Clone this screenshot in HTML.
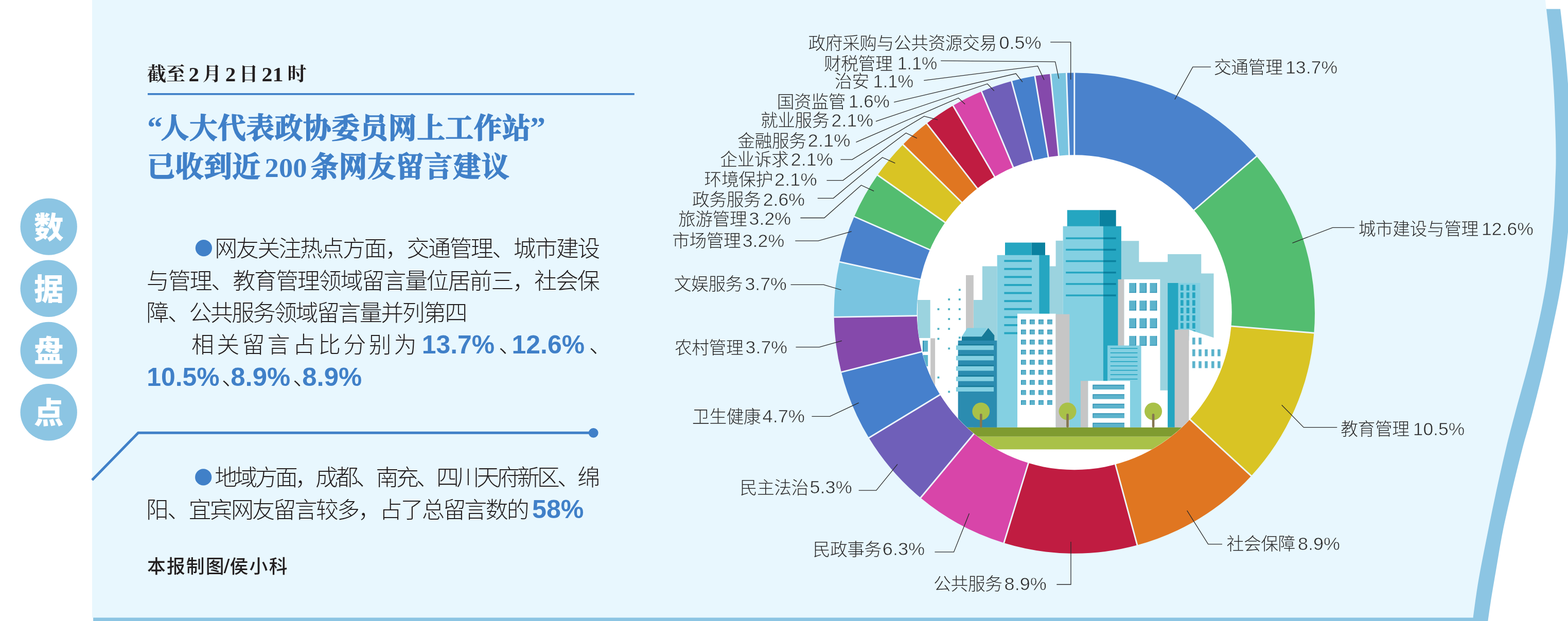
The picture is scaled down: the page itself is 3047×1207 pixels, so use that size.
<!DOCTYPE html>
<html lang="zh"><head><meta charset="utf-8"><title>数据盘点</title>
<style>
html,body{margin:0;padding:0;background:#fff}
body{width:3047px;height:1207px;position:relative;overflow:hidden;font-family:"Liberation Sans",sans-serif}
svg{position:absolute;left:0;top:0;display:block;will-change:transform}
.t div{position:absolute;white-space:nowrap;color:transparent;line-height:1;font-family:"Liberation Sans",sans-serif}
</style></head><body>
<svg width="3047" height="1207" viewBox="0 0 3047 1207">
<defs><clipPath id="ic"><circle cx="2087.7" cy="607.3" r="305.7"/></clipPath></defs>
<path fill="#8cc5e3" d="M181.1 17.6L3032.1 17.6C3033.3 27.7 3037.0 58.5 3039.2 78.4C3041.3 98.4 3043.4 117.0 3045.0 137.3C3046.6 157.6 3047.8 170.7 3049.0 200.0C3050.2 229.3 3051.8 279.7 3052.0 313.0C3052.2 346.3 3050.8 377.0 3050.0 400.0C3049.2 423.0 3048.8 431.4 3047.0 451.0C3045.2 470.6 3042.1 496.7 3039.2 517.6C3036.3 538.5 3033.3 555.6 3029.4 576.5C3025.5 597.4 3020.5 620.2 3015.6 643.1C3010.7 666.0 3006.2 687.6 3000.0 713.7C2993.8 739.9 2985.3 773.6 2978.4 800.0C2971.5 826.4 2965.1 846.5 2958.4 871.8C2951.8 897.1 2944.8 925.0 2938.5 951.6C2932.2 978.2 2925.8 1004.8 2920.5 1031.4C2915.2 1058.0 2910.6 1087.8 2906.6 1111.1C2902.6 1134.4 2899.1 1155.0 2896.6 1171.0C2894.1 1187.0 2892.3 1201.0 2891.4 1207.0L181.1 1207Z"/>
<path fill="#e8f7fe" d="M179 0L3003.0 0.0C3003.3 2.9 3003.2 1.3 3005.0 17.6C3006.8 33.9 3011.3 71.5 3013.7 98.0C3016.1 124.5 3018.0 150.3 3019.5 176.5C3021.0 202.7 3022.0 232.1 3022.7 255.0C3023.4 277.9 3023.6 297.4 3023.5 313.7C3023.4 330.0 3022.8 338.6 3022.3 353.0C3021.8 367.4 3021.4 382.4 3020.3 400.0C3019.2 417.6 3017.7 437.2 3015.6 458.8C3013.5 480.4 3010.7 507.8 3007.8 529.4C3004.9 551.0 3001.9 567.9 2998.0 588.2C2994.1 608.5 2989.5 628.8 2984.3 651.0C2979.1 673.2 2973.2 696.8 2966.6 721.6C2960.0 746.4 2951.7 775.0 2945.0 800.0C2938.3 825.0 2932.9 845.2 2926.5 871.8C2920.1 898.4 2912.9 930.4 2906.6 959.6C2900.3 988.9 2894.3 1018.7 2888.6 1047.3C2882.9 1075.9 2876.9 1105.6 2872.6 1131.1C2868.3 1156.5 2864.3 1188.5 2862.7 1200.0L2862.7 1200.4L179 1200.4Z"/>
<circle cx="94.7" cy="440.6" r="55.2" fill="#8cc5e3"/>
<text x="94.7" y="462.6" font-family="'Liberation Sans','Noto Sans CJK SC',sans-serif" font-size="57.5" font-weight="900" fill="#fff" text-anchor="middle">数</text>
<circle cx="94.7" cy="560.8" r="55.2" fill="#8cc5e3"/>
<text x="94.7" y="582.8" font-family="'Liberation Sans','Noto Sans CJK SC',sans-serif" font-size="57.5" font-weight="900" fill="#fff" text-anchor="middle">据</text>
<circle cx="94.7" cy="681.0" r="55.2" fill="#8cc5e3"/>
<text x="94.7" y="703.0" font-family="'Liberation Sans','Noto Sans CJK SC',sans-serif" font-size="57.5" font-weight="900" fill="#fff" text-anchor="middle">盘</text>
<circle cx="94.7" cy="801.2" r="55.2" fill="#8cc5e3"/>
<text x="94.7" y="823.2" font-family="'Liberation Sans','Noto Sans CJK SC',sans-serif" font-size="57.5" font-weight="900" fill="#fff" text-anchor="middle">点</text>
<text x="286.00" y="156.90" font-family="'Liberation Serif','Noto Serif CJK SC',serif" font-size="37" font-weight="700" fill="#231f20">截至</text>
<text x="366.50" y="157.60" font-family="Liberation Serif" font-size="39.00" font-weight="700" fill="#231f20" text-anchor="start" textLength="20.50" lengthAdjust="spacingAndGlyphs">2</text>
<text x="393.50" y="156.90" font-family="'Liberation Serif','Noto Serif CJK SC',serif" font-size="37" font-weight="700" fill="#231f20">月</text>
<text x="437.80" y="157.60" font-family="Liberation Serif" font-size="39.00" font-weight="700" fill="#231f20" text-anchor="start" textLength="20.50" lengthAdjust="spacingAndGlyphs">2</text>
<text x="464.50" y="156.90" font-family="'Liberation Serif','Noto Serif CJK SC',serif" font-size="37" font-weight="700" fill="#231f20">日</text>
<text x="508.50" y="157.60" font-family="Liberation Serif" font-size="39.00" font-weight="700" fill="#231f20" text-anchor="start" textLength="42.00" lengthAdjust="spacingAndGlyphs">21</text>
<text x="558.50" y="156.90" font-family="'Liberation Serif','Noto Serif CJK SC',serif" font-size="37" font-weight="700" fill="#231f20">时</text>
<rect x="287" y="181" width="945.8" height="3.7" fill="#4080c8"/>
<text x="286" y="268.40" font-family="'Liberation Serif','Noto Serif CJK SC',serif" font-size="60" font-weight="700" fill="#4080c8">“</text>
<text x="312.60" y="268.40" font-family="'Liberation Serif','Noto Serif CJK SC',serif" font-size="54.6" font-weight="700" fill="#4080c8" stroke="#4080c8" stroke-width="1.6" stroke-linejoin="round" textLength="718" lengthAdjust="spacing">人大代表政协委员网上工作站</text>
<text x="1030" y="268.40" font-family="'Liberation Serif','Noto Serif CJK SC',serif" font-size="60" font-weight="700" fill="#4080c8">”</text>
<text x="285.60" y="343.30" font-family="'Liberation Serif','Noto Serif CJK SC',serif" font-size="54.6" font-weight="700" fill="#4080c8" stroke="#4080c8" stroke-width="1.6" stroke-linejoin="round" textLength="220.5" lengthAdjust="spacing">已收到近</text>
<text x="514.60" y="344.00" font-family="Liberation Serif" font-size="52.50" font-weight="700" fill="#4080c8" text-anchor="start" textLength="82.00" lengthAdjust="spacingAndGlyphs">200</text>
<text x="603.40" y="343.30" font-family="'Liberation Serif','Noto Serif CJK SC',serif" font-size="54.6" font-weight="700" fill="#4080c8" stroke="#4080c8" stroke-width="1.6" stroke-linejoin="round" textLength="386.4" lengthAdjust="spacing">条网友留言建议</text>
<circle cx="395.9" cy="482.2" r="16.1" fill="#4080c8"/>
<text x="417.20" y="499.30" font-family="'Liberation Sans','Noto Sans CJK SC',sans-serif" font-size="44" font-weight="300" fill="#231f20" textLength="749" lengthAdjust="spacing">网友关注热点方面，交通管理、城市建设</text>
<text x="284.80" y="561.60" font-family="'Liberation Sans','Noto Sans CJK SC',sans-serif" font-size="44" font-weight="300" fill="#231f20" textLength="881" lengthAdjust="spacing">与管理、教育管理领域留言量位居前三，社会保</text>
<text x="284.60" y="623.90" font-family="'Liberation Sans','Noto Sans CJK SC',sans-serif" font-size="44" font-weight="300" fill="#231f20" textLength="623.8" lengthAdjust="spacing">障、公共服务领域留言量并列第四</text>
<text x="372.00" y="686.20" font-family="'Liberation Sans','Noto Sans CJK SC',sans-serif" font-size="44" font-weight="300" fill="#231f20" textLength="437.6" lengthAdjust="spacing">相关留言占比分别为</text>
<text x="819.70" y="687.20" font-family="Liberation Sans" font-size="49.50" font-weight="700" fill="#4080c8" text-anchor="start" textLength="141.50" lengthAdjust="spacingAndGlyphs">13.7%</text>
<text x="969.00" y="686.20" font-family="'Liberation Sans','Noto Sans CJK SC',sans-serif" font-size="44" font-weight="300" fill="#231f20">、</text>
<text x="994.60" y="687.20" font-family="Liberation Sans" font-size="49.50" font-weight="700" fill="#4080c8" text-anchor="start" textLength="141.50" lengthAdjust="spacingAndGlyphs">12.6%</text>
<text x="1144.80" y="686.20" font-family="'Liberation Sans','Noto Sans CJK SC',sans-serif" font-size="44" font-weight="300" fill="#231f20">、</text>
<text x="285.20" y="750.10" font-family="Liberation Sans" font-size="49.50" font-weight="700" fill="#4080c8" text-anchor="start" textLength="141.50" lengthAdjust="spacingAndGlyphs">10.5%</text>
<text x="430.80" y="748.50" font-family="'Liberation Sans','Noto Sans CJK SC',sans-serif" font-size="44" font-weight="300" fill="#231f20">、</text>
<text x="448.30" y="750.10" font-family="Liberation Sans" font-size="49.50" font-weight="700" fill="#4080c8" text-anchor="start" textLength="116.00" lengthAdjust="spacingAndGlyphs">8.9%</text>
<text x="569.00" y="748.50" font-family="'Liberation Sans','Noto Sans CJK SC',sans-serif" font-size="44" font-weight="300" fill="#231f20">、</text>
<text x="587.20" y="750.10" font-family="Liberation Sans" font-size="49.50" font-weight="700" fill="#4080c8" text-anchor="start" textLength="116.00" lengthAdjust="spacingAndGlyphs">8.9%</text>
<path d="M179 933L268.6 841.3H1153" fill="none" stroke="#4080c8" stroke-width="5"/>
<circle cx="1153.2" cy="841.3" r="9.4" fill="#4080c8"/>
<circle cx="395.2" cy="927.4" r="16.1" fill="#4080c8"/>
<text x="417.20" y="944.00" font-family="'Liberation Sans','Noto Sans CJK SC',sans-serif" font-size="44" font-weight="300" fill="#231f20" textLength="749" lengthAdjust="spacing">地域方面，成都、南充、四川天府新区、绵</text>
<text x="284.00" y="1006.50" font-family="'Liberation Sans','Noto Sans CJK SC',sans-serif" font-size="44" font-weight="300" fill="#231f20" textLength="744.8" lengthAdjust="spacing">阳、宜宾网友留言较多，占了总留言数的</text>
<text x="1034.00" y="1006.90" font-family="Liberation Sans" font-size="49.50" font-weight="700" fill="#4080c8" text-anchor="start" textLength="100.50" lengthAdjust="spacingAndGlyphs">58%</text>
<text x="286.00" y="1114.20" font-family="'Liberation Sans','Noto Sans CJK SC',sans-serif" font-size="35.8" font-weight="500" fill="#231f20" textLength="149.5" lengthAdjust="spacing">本报制图</text>
<text x="434.40" y="1114.20" font-family="Liberation Sans" font-size="38.00" font-weight="400" fill="#231f20" text-anchor="start" textLength="12.00" lengthAdjust="spacingAndGlyphs">/</text>
<text x="446.40" y="1114.20" font-family="'Liberation Sans','Noto Sans CJK SC',sans-serif" font-size="35.8" font-weight="500" fill="#231f20" textLength="112.2" lengthAdjust="spacing">侯小科</text>
<path fill="#4a82cc" d="M2087.80 141.40A467.2 467.2 0 0 1 2441.80 303.71L2316.48 411.65A301.8 301.8 0 0 0 2087.80 306.80Z"/>
<path fill="#53bd70" d="M2441.80 303.71A467.2 467.2 0 0 1 2553.40 647.18L2388.57 633.52A301.8 301.8 0 0 0 2316.48 411.65Z"/>
<path fill="#d9c424" d="M2553.40 647.18A467.2 467.2 0 0 1 2431.53 925.03L2309.84 813.00A301.8 301.8 0 0 0 2388.57 633.52Z"/>
<path fill="#e07621" d="M2431.53 925.03A467.2 467.2 0 0 1 2209.96 1059.55L2166.71 899.90A301.8 301.8 0 0 0 2309.84 813.00Z"/>
<path fill="#c01c41" d="M2209.96 1059.55A467.2 467.2 0 0 1 1950.79 1055.26L1999.30 897.13A301.8 301.8 0 0 0 2166.71 899.90Z"/>
<path fill="#d845a9" d="M1950.79 1055.26A467.2 467.2 0 0 1 1788.81 967.60L1894.66 840.50A301.8 301.8 0 0 0 1999.30 897.13Z"/>
<path fill="#6f5fb9" d="M1788.81 967.60A467.2 467.2 0 0 1 1688.44 851.06L1829.82 765.23A301.8 301.8 0 0 0 1894.66 840.50Z"/>
<path fill="#4680cc" d="M1688.44 851.06A467.2 467.2 0 0 1 1634.90 723.29L1795.23 682.69A301.8 301.8 0 0 0 1829.82 765.23Z"/>
<path fill="#8549ab" d="M1634.90 723.29A467.2 467.2 0 0 1 1620.66 616.32L1786.04 613.59A301.8 301.8 0 0 0 1795.23 682.69Z"/>
<path fill="#79c4e0" d="M1620.66 616.32A467.2 467.2 0 0 1 1631.35 508.95L1792.95 544.23A301.8 301.8 0 0 0 1786.04 613.59Z"/>
<path fill="#4a82cc" d="M1631.35 508.95A467.2 467.2 0 0 1 1659.95 420.93L1811.42 487.37A301.8 301.8 0 0 0 1792.95 544.23Z"/>
<path fill="#53bd70" d="M1659.95 420.93A467.2 467.2 0 0 1 1705.34 340.27L1840.74 435.27A301.8 301.8 0 0 0 1811.42 487.37Z"/>
<path fill="#d9c424" d="M1705.34 340.27A467.2 467.2 0 0 1 1754.72 280.98L1872.64 396.97A301.8 301.8 0 0 0 1840.74 435.27Z"/>
<path fill="#e07621" d="M1754.72 280.98A467.2 467.2 0 0 1 1800.84 239.91L1902.43 370.44A301.8 301.8 0 0 0 1872.64 396.97Z"/>
<path fill="#c01c41" d="M1800.84 239.91A467.2 467.2 0 0 1 1851.97 205.29L1935.46 348.07A301.8 301.8 0 0 0 1902.43 370.44Z"/>
<path fill="#d845a9" d="M1851.97 205.29A467.2 467.2 0 0 1 1907.23 177.71L1971.15 330.25A301.8 301.8 0 0 0 1935.46 348.07Z"/>
<path fill="#6f5fb9" d="M1907.23 177.71A467.2 467.2 0 0 1 1965.64 157.65L2008.89 317.30A301.8 301.8 0 0 0 1971.15 330.25Z"/>
<path fill="#4680cc" d="M1965.64 157.65A467.2 467.2 0 0 1 2010.90 147.77L2038.13 310.92A301.8 301.8 0 0 0 2008.89 317.30Z"/>
<path fill="#8549ab" d="M2010.90 147.77A467.2 467.2 0 0 1 2041.53 143.70L2057.91 308.28A301.8 301.8 0 0 0 2038.13 310.92Z"/>
<path fill="#79c4e0" d="M2041.53 143.70A467.2 467.2 0 0 1 2072.35 141.66L2077.82 306.97A301.8 301.8 0 0 0 2057.91 308.28Z"/>
<path fill="#4a82cc" d="M2072.35 141.66A467.2 467.2 0 0 1 2087.80 141.40L2087.80 306.80A301.8 301.8 0 0 0 2077.82 306.97Z"/>
<path d="M2087.80 140.90L2087.80 305.80M2442.18 303.39L2317.24 411.00M2553.90 647.22L2389.57 633.61M2431.90 925.36L2310.58 813.68M2210.09 1060.03L2166.98 900.87M1950.65 1055.74L1999.00 898.09M1788.49 967.98L1894.02 841.27M1688.01 851.32L1828.97 765.74M1634.41 723.41L1794.27 682.93M1620.16 616.33L1785.04 613.61M1630.86 508.84L1791.97 544.01M1659.49 420.73L1810.50 486.97M1704.93 339.99L1839.92 434.69M1754.36 280.63L1871.93 396.27M1800.53 239.52L1901.82 369.65M1851.72 204.85L1934.96 347.21M1907.03 177.25L1970.77 329.33M1965.51 157.17L2008.62 316.33M2010.82 147.28L2037.96 309.93M2041.48 143.20L2057.81 307.29M2072.34 141.16L2077.79 305.97" stroke="#eef6fb" stroke-width="2.9" fill="none"/>
<circle cx="2087.7" cy="607.3" r="306.0" fill="#fff"/>
<g clip-path="url(#ic)"><rect x="1783.0" y="583.0" width="24.7" height="74.0" fill="#9bd3df"/><path d="M1891.8 830.8L1891.8 583.0L1908.9 583.0L1908.9 517.4L1937.7 517.4L1937.7 830.8Z" fill="#9bd3df"/><path d="M2039.6 830.8L2039.6 517.4L2051.6 517.4L2051.6 467.7L2065.6 467.7L2065.6 830.8Z" fill="#9bd3df"/><path d="M2178.9 700.0L2178.9 468.2L2213.3 468.2L2213.3 509.3L2269.1 509.3L2269.1 494.0L2334.3 494.0L2334.3 531.4L2358.5 531.4L2358.5 662.0L2269.1 662.0L2269.1 758.7L2254.3 758.7L2254.3 700.0Z" fill="#9bd3df"/><rect x="1877.0" y="534.8" width="14.8" height="165.2" fill="#c6c6c6"/><rect x="1808.2" y="657.5" width="8.9" height="173.3" fill="#c6c6c6"/><rect x="1793.0" y="662.0" width="10.2" height="21.5" fill="#5cb3cc"/><rect x="1793.0" y="662.0" width="2.0" height="21.5" fill="#2d8fb2"/><rect x="1794.0" y="690.0" width="9.2" height="22.0" fill="#5cb3cc"/><rect x="1862.9" y="561.4" width="3.8" height="3.8" fill="#4fb1c3"/><rect x="1862.9" y="580.0" width="3.8" height="3.8" fill="#4fb1c3"/><rect x="1862.9" y="599.1" width="3.8" height="3.8" fill="#4fb1c3"/><rect x="1862.9" y="618.2" width="3.8" height="3.8" fill="#4fb1c3"/><rect x="1842.3" y="580.0" width="3.8" height="3.8" fill="#4fb1c3"/><rect x="1842.3" y="599.1" width="3.8" height="3.8" fill="#4fb1c3"/><rect x="1842.3" y="618.2" width="3.8" height="3.8" fill="#4fb1c3"/><rect x="1842.3" y="637.3" width="3.8" height="3.8" fill="#4fb1c3"/><rect x="1821.6" y="599.1" width="3.8" height="3.8" fill="#4fb1c3"/><rect x="1821.6" y="637.3" width="3.8" height="3.8" fill="#4fb1c3"/><rect x="1821.6" y="656.6" width="3.8" height="3.8" fill="#4fb1c3"/><rect x="1862.9" y="654.3" width="3.8" height="3.8" fill="#4fb1c3"/><rect x="1842.3" y="675.5" width="3.8" height="3.8" fill="#4fb1c3"/><rect x="1821.6" y="731.8" width="3.8" height="3.8" fill="#4fb1c3"/><rect x="1842.3" y="759.6" width="3.8" height="3.8" fill="#4fb1c3"/><rect x="1953.0" y="471.5" width="51.5" height="24.5" fill="#25a6c1"/><rect x="2004.5" y="471.5" width="26.5" height="24.5" fill="#0a819f"/><rect x="1937.7" y="495.8" width="81.5" height="335.0" fill="#84d0e2"/><rect x="2019.2" y="495.8" width="20.4" height="335.0" fill="#25a6c1"/><rect x="1951.4" y="505.2" width="53.6" height="3.9" fill="#25a6c1"/><rect x="1951.4" y="520.8" width="53.6" height="3.9" fill="#25a6c1"/><rect x="1951.4" y="536.4" width="53.6" height="3.9" fill="#25a6c1"/><rect x="1951.4" y="552.0" width="53.6" height="3.9" fill="#25a6c1"/><rect x="1951.4" y="567.6" width="53.6" height="3.9" fill="#25a6c1"/><rect x="1951.4" y="583.2" width="53.6" height="3.9" fill="#25a6c1"/><rect x="1951.4" y="598.8" width="53.6" height="3.9" fill="#25a6c1"/><rect x="1951.4" y="614.4" width="53.6" height="3.9" fill="#25a6c1"/><rect x="1951.4" y="630.0" width="53.6" height="3.9" fill="#25a6c1"/><rect x="1951.4" y="645.6" width="53.6" height="3.9" fill="#25a6c1"/><rect x="2073.8" y="408.3" width="62.8" height="31.7" fill="#25a6c1"/><rect x="2136.6" y="408.3" width="32.1" height="31.7" fill="#0a819f"/><rect x="2065.6" y="439.7" width="78.1" height="391.1" fill="#84d0e2"/><rect x="2143.7" y="439.7" width="35.2" height="391.1" fill="#25a6c1"/><rect x="2071.2" y="461.4" width="72.5" height="3.5" fill="#25a6c1"/><rect x="2143.7" y="461.4" width="25.0" height="3.5" fill="#0a819f"/><rect x="2071.2" y="483.6" width="72.5" height="3.5" fill="#25a6c1"/><rect x="2143.7" y="483.6" width="25.0" height="3.5" fill="#0a819f"/><rect x="2071.2" y="505.8" width="72.5" height="3.5" fill="#25a6c1"/><rect x="2143.7" y="505.8" width="25.0" height="3.5" fill="#0a819f"/><rect x="2071.2" y="528.0" width="72.5" height="3.5" fill="#25a6c1"/><rect x="2143.7" y="528.0" width="25.0" height="3.5" fill="#0a819f"/><rect x="2071.2" y="550.2" width="72.5" height="3.5" fill="#25a6c1"/><rect x="2143.7" y="550.2" width="25.0" height="3.5" fill="#0a819f"/><rect x="2071.2" y="572.4" width="72.5" height="3.5" fill="#25a6c1"/><rect x="2143.7" y="572.4" width="25.0" height="3.5" fill="#0a819f"/><rect x="1977.0" y="609.7" width="74.6" height="221.1" fill="#fff"/><rect x="2051.6" y="610.7" width="26.8" height="220.1" fill="#c6c6c6"/><rect x="1984.0" y="621.1" width="9.8" height="9.1" fill="#2d8fb2"/><rect x="1985.2" y="622.3" width="8.6" height="7.9" fill="#5cb3cc"/><rect x="2001.0" y="621.1" width="9.8" height="9.1" fill="#2d8fb2"/><rect x="2002.2" y="622.3" width="8.6" height="7.9" fill="#5cb3cc"/><rect x="2018.1" y="621.1" width="9.8" height="9.1" fill="#2d8fb2"/><rect x="2019.3" y="622.3" width="8.6" height="7.9" fill="#5cb3cc"/><rect x="2035.2" y="621.1" width="9.8" height="9.1" fill="#2d8fb2"/><rect x="2036.4" y="622.3" width="8.6" height="7.9" fill="#5cb3cc"/><rect x="1984.0" y="640.7" width="9.8" height="9.1" fill="#2d8fb2"/><rect x="1985.2" y="641.9" width="8.6" height="7.9" fill="#5cb3cc"/><rect x="2001.0" y="640.7" width="9.8" height="9.1" fill="#2d8fb2"/><rect x="2002.2" y="641.9" width="8.6" height="7.9" fill="#5cb3cc"/><rect x="2018.1" y="640.7" width="9.8" height="9.1" fill="#2d8fb2"/><rect x="2019.3" y="641.9" width="8.6" height="7.9" fill="#5cb3cc"/><rect x="2035.2" y="640.7" width="9.8" height="9.1" fill="#2d8fb2"/><rect x="2036.4" y="641.9" width="8.6" height="7.9" fill="#5cb3cc"/><rect x="1984.0" y="660.3" width="9.8" height="9.1" fill="#2d8fb2"/><rect x="1985.2" y="661.5" width="8.6" height="7.9" fill="#5cb3cc"/><rect x="2001.0" y="660.3" width="9.8" height="9.1" fill="#2d8fb2"/><rect x="2002.2" y="661.5" width="8.6" height="7.9" fill="#5cb3cc"/><rect x="2018.1" y="660.3" width="9.8" height="9.1" fill="#2d8fb2"/><rect x="2019.3" y="661.5" width="8.6" height="7.9" fill="#5cb3cc"/><rect x="2035.2" y="660.3" width="9.8" height="9.1" fill="#2d8fb2"/><rect x="2036.4" y="661.5" width="8.6" height="7.9" fill="#5cb3cc"/><rect x="1984.0" y="679.9" width="9.8" height="9.1" fill="#2d8fb2"/><rect x="1985.2" y="681.1" width="8.6" height="7.9" fill="#5cb3cc"/><rect x="2001.0" y="679.9" width="9.8" height="9.1" fill="#2d8fb2"/><rect x="2002.2" y="681.1" width="8.6" height="7.9" fill="#5cb3cc"/><rect x="2018.1" y="679.9" width="9.8" height="9.1" fill="#2d8fb2"/><rect x="2019.3" y="681.1" width="8.6" height="7.9" fill="#5cb3cc"/><rect x="2035.2" y="679.9" width="9.8" height="9.1" fill="#2d8fb2"/><rect x="2036.4" y="681.1" width="8.6" height="7.9" fill="#5cb3cc"/><rect x="1984.0" y="699.5" width="9.8" height="9.1" fill="#2d8fb2"/><rect x="1985.2" y="700.7" width="8.6" height="7.9" fill="#5cb3cc"/><rect x="2001.0" y="699.5" width="9.8" height="9.1" fill="#2d8fb2"/><rect x="2002.2" y="700.7" width="8.6" height="7.9" fill="#5cb3cc"/><rect x="2018.1" y="699.5" width="9.8" height="9.1" fill="#2d8fb2"/><rect x="2019.3" y="700.7" width="8.6" height="7.9" fill="#5cb3cc"/><rect x="2035.2" y="699.5" width="9.8" height="9.1" fill="#2d8fb2"/><rect x="2036.4" y="700.7" width="8.6" height="7.9" fill="#5cb3cc"/><rect x="1984.0" y="719.1" width="9.8" height="9.1" fill="#2d8fb2"/><rect x="1985.2" y="720.3" width="8.6" height="7.9" fill="#5cb3cc"/><rect x="2001.0" y="719.1" width="9.8" height="9.1" fill="#2d8fb2"/><rect x="2002.2" y="720.3" width="8.6" height="7.9" fill="#5cb3cc"/><rect x="2018.1" y="719.1" width="9.8" height="9.1" fill="#2d8fb2"/><rect x="2019.3" y="720.3" width="8.6" height="7.9" fill="#5cb3cc"/><rect x="2035.2" y="719.1" width="9.8" height="9.1" fill="#2d8fb2"/><rect x="2036.4" y="720.3" width="8.6" height="7.9" fill="#5cb3cc"/><rect x="1984.0" y="738.7" width="9.8" height="9.1" fill="#2d8fb2"/><rect x="1985.2" y="739.9" width="8.6" height="7.9" fill="#5cb3cc"/><rect x="2001.0" y="738.7" width="9.8" height="9.1" fill="#2d8fb2"/><rect x="2002.2" y="739.9" width="8.6" height="7.9" fill="#5cb3cc"/><rect x="2018.1" y="738.7" width="9.8" height="9.1" fill="#2d8fb2"/><rect x="2019.3" y="739.9" width="8.6" height="7.9" fill="#5cb3cc"/><rect x="2035.2" y="738.7" width="9.8" height="9.1" fill="#2d8fb2"/><rect x="2036.4" y="739.9" width="8.6" height="7.9" fill="#5cb3cc"/><rect x="1984.0" y="758.3" width="9.8" height="9.1" fill="#2d8fb2"/><rect x="1985.2" y="759.5" width="8.6" height="7.9" fill="#5cb3cc"/><rect x="2001.0" y="758.3" width="9.8" height="9.1" fill="#2d8fb2"/><rect x="2002.2" y="759.5" width="8.6" height="7.9" fill="#5cb3cc"/><rect x="2018.1" y="758.3" width="9.8" height="9.1" fill="#2d8fb2"/><rect x="2019.3" y="759.5" width="8.6" height="7.9" fill="#5cb3cc"/><rect x="2035.2" y="758.3" width="9.8" height="9.1" fill="#2d8fb2"/><rect x="2036.4" y="759.5" width="8.6" height="7.9" fill="#5cb3cc"/><rect x="1984.0" y="777.9" width="9.8" height="9.1" fill="#2d8fb2"/><rect x="1985.2" y="779.1" width="8.6" height="7.9" fill="#5cb3cc"/><rect x="2001.0" y="777.9" width="9.8" height="9.1" fill="#2d8fb2"/><rect x="2002.2" y="779.1" width="8.6" height="7.9" fill="#5cb3cc"/><rect x="2018.1" y="777.9" width="9.8" height="9.1" fill="#2d8fb2"/><rect x="2019.3" y="779.1" width="8.6" height="7.9" fill="#5cb3cc"/><rect x="2035.2" y="777.9" width="9.8" height="9.1" fill="#2d8fb2"/><rect x="2036.4" y="779.1" width="8.6" height="7.9" fill="#5cb3cc"/><rect x="2172.5" y="542.9" width="12.0" height="287.9" fill="#c6c6c6"/><rect x="2184.5" y="542.9" width="69.8" height="287.9" fill="#fff"/><rect x="2194.2" y="550.0" width="13.8" height="19.1" fill="#5cb3cc"/><rect x="2206.6" y="550.0" width="1.4" height="19.1" fill="#2d8fb2"/><rect x="2194.2" y="567.9" width="13.8" height="1.2" fill="#2d8fb2"/><rect x="2214.3" y="550.0" width="13.8" height="19.1" fill="#5cb3cc"/><rect x="2226.7" y="550.0" width="1.4" height="19.1" fill="#2d8fb2"/><rect x="2214.3" y="567.9" width="13.8" height="1.2" fill="#2d8fb2"/><rect x="2234.4" y="550.0" width="13.8" height="19.1" fill="#5cb3cc"/><rect x="2246.8" y="550.0" width="1.4" height="19.1" fill="#2d8fb2"/><rect x="2234.4" y="567.9" width="13.8" height="1.2" fill="#2d8fb2"/><rect x="2194.2" y="584.3" width="13.8" height="19.1" fill="#5cb3cc"/><rect x="2206.6" y="584.3" width="1.4" height="19.1" fill="#2d8fb2"/><rect x="2194.2" y="602.2" width="13.8" height="1.2" fill="#2d8fb2"/><rect x="2214.3" y="584.3" width="13.8" height="19.1" fill="#5cb3cc"/><rect x="2226.7" y="584.3" width="1.4" height="19.1" fill="#2d8fb2"/><rect x="2214.3" y="602.2" width="13.8" height="1.2" fill="#2d8fb2"/><rect x="2234.4" y="584.3" width="13.8" height="19.1" fill="#5cb3cc"/><rect x="2246.8" y="584.3" width="1.4" height="19.1" fill="#2d8fb2"/><rect x="2234.4" y="602.2" width="13.8" height="1.2" fill="#2d8fb2"/><rect x="2194.2" y="618.6" width="13.8" height="19.1" fill="#5cb3cc"/><rect x="2206.6" y="618.6" width="1.4" height="19.1" fill="#2d8fb2"/><rect x="2194.2" y="636.5" width="13.8" height="1.2" fill="#2d8fb2"/><rect x="2214.3" y="618.6" width="13.8" height="19.1" fill="#5cb3cc"/><rect x="2226.7" y="618.6" width="1.4" height="19.1" fill="#2d8fb2"/><rect x="2214.3" y="636.5" width="13.8" height="1.2" fill="#2d8fb2"/><rect x="2234.4" y="618.6" width="13.8" height="19.1" fill="#5cb3cc"/><rect x="2246.8" y="618.6" width="1.4" height="19.1" fill="#2d8fb2"/><rect x="2234.4" y="636.5" width="13.8" height="1.2" fill="#2d8fb2"/><rect x="2194.2" y="652.9" width="13.8" height="19.1" fill="#5cb3cc"/><rect x="2206.6" y="652.9" width="1.4" height="19.1" fill="#2d8fb2"/><rect x="2194.2" y="670.8" width="13.8" height="1.2" fill="#2d8fb2"/><rect x="2214.3" y="652.9" width="13.8" height="19.1" fill="#5cb3cc"/><rect x="2226.7" y="652.9" width="1.4" height="19.1" fill="#2d8fb2"/><rect x="2214.3" y="670.8" width="13.8" height="1.2" fill="#2d8fb2"/><rect x="2234.4" y="652.9" width="13.8" height="19.1" fill="#5cb3cc"/><rect x="2246.8" y="652.9" width="1.4" height="19.1" fill="#2d8fb2"/><rect x="2234.4" y="670.8" width="13.8" height="1.2" fill="#2d8fb2"/><rect x="2269.1" y="550.0" width="20.6" height="280.8" fill="#25a6c1"/><rect x="2289.7" y="550.0" width="42.6" height="112.0" fill="#84d0e2"/><rect x="2294.0" y="553.6" width="5.7" height="11.0" fill="#25a6c1"/><rect x="2305.5" y="553.6" width="5.7" height="11.0" fill="#25a6c1"/><rect x="2317.0" y="553.6" width="5.7" height="11.0" fill="#25a6c1"/><rect x="2294.0" y="568.4" width="5.7" height="11.0" fill="#25a6c1"/><rect x="2305.5" y="568.4" width="5.7" height="11.0" fill="#25a6c1"/><rect x="2317.0" y="568.4" width="5.7" height="11.0" fill="#25a6c1"/><rect x="2294.0" y="583.2" width="5.7" height="11.0" fill="#25a6c1"/><rect x="2305.5" y="583.2" width="5.7" height="11.0" fill="#25a6c1"/><rect x="2317.0" y="583.2" width="5.7" height="11.0" fill="#25a6c1"/><rect x="2294.0" y="598.0" width="5.7" height="11.0" fill="#25a6c1"/><rect x="2305.5" y="598.0" width="5.7" height="11.0" fill="#25a6c1"/><rect x="2317.0" y="598.0" width="5.7" height="11.0" fill="#25a6c1"/><rect x="2294.0" y="612.8" width="5.7" height="11.0" fill="#25a6c1"/><rect x="2305.5" y="612.8" width="5.7" height="11.0" fill="#25a6c1"/><rect x="2317.0" y="612.8" width="5.7" height="11.0" fill="#25a6c1"/><rect x="2294.0" y="627.6" width="5.7" height="11.0" fill="#25a6c1"/><rect x="2305.5" y="627.6" width="5.7" height="11.0" fill="#25a6c1"/><rect x="2317.0" y="627.6" width="5.7" height="11.0" fill="#25a6c1"/><rect x="2294.0" y="642.4" width="5.7" height="11.0" fill="#25a6c1"/><rect x="2305.5" y="642.4" width="5.7" height="11.0" fill="#25a6c1"/><rect x="2317.0" y="642.4" width="5.7" height="11.0" fill="#25a6c1"/><rect x="2282.6" y="640.7" width="28.0" height="190.1" fill="#c6c6c6"/><path d="M2310.6 640.7L2359.0 656.5L2420.0 656.5L2420.0 830.8L2310.6 830.8Z" fill="#fff"/><rect x="2317.0" y="656.2" width="5.6" height="13.4" fill="#5cb3cc"/><rect x="2329.2" y="656.2" width="5.6" height="13.4" fill="#5cb3cc"/><rect x="2317.0" y="679.0" width="5.6" height="13.4" fill="#5cb3cc"/><rect x="2329.2" y="679.0" width="5.6" height="13.4" fill="#5cb3cc"/><rect x="2341.2" y="679.0" width="5.6" height="13.4" fill="#5cb3cc"/><rect x="2354.0" y="679.0" width="5.6" height="13.4" fill="#5cb3cc"/><rect x="2366.0" y="679.0" width="5.6" height="13.4" fill="#5cb3cc"/><rect x="2317.0" y="702.1" width="5.6" height="13.4" fill="#5cb3cc"/><rect x="2329.2" y="702.1" width="5.6" height="13.4" fill="#5cb3cc"/><rect x="2341.2" y="702.1" width="5.6" height="13.4" fill="#5cb3cc"/><rect x="2354.0" y="702.1" width="5.6" height="13.4" fill="#5cb3cc"/><rect x="2366.0" y="702.1" width="5.6" height="13.4" fill="#5cb3cc"/><rect x="2152.1" y="671.5" width="65.5" height="159.3" fill="#84d0e2"/><rect x="2157.7" y="676.4" width="52.8" height="1.7" fill="#25a6c1"/><rect x="2157.7" y="684.9" width="52.8" height="1.7" fill="#25a6c1"/><rect x="2157.7" y="693.4" width="52.8" height="1.7" fill="#25a6c1"/><rect x="2157.7" y="701.9" width="52.8" height="1.7" fill="#25a6c1"/><rect x="2157.7" y="710.4" width="52.8" height="1.7" fill="#25a6c1"/><rect x="2157.7" y="718.9" width="52.8" height="1.7" fill="#25a6c1"/><rect x="2157.7" y="727.4" width="52.8" height="1.7" fill="#25a6c1"/><rect x="2157.7" y="735.9" width="52.8" height="1.7" fill="#25a6c1"/><rect x="2099.9" y="740.3" width="14.5" height="90.5" fill="#c6c6c6"/><rect x="2114.4" y="740.3" width="81.6" height="90.5" fill="#fff"/><rect x="2123.3" y="747.7" width="61.7" height="9.2" fill="#2d8fb2"/><rect x="2124.6" y="749.3" width="60.4" height="7.6" fill="#5cb3cc"/><rect x="2123.3" y="766.2" width="61.7" height="9.2" fill="#2d8fb2"/><rect x="2124.6" y="767.8" width="60.4" height="7.6" fill="#5cb3cc"/><rect x="2123.3" y="784.7" width="61.7" height="9.2" fill="#2d8fb2"/><rect x="2124.6" y="786.3" width="60.4" height="7.6" fill="#5cb3cc"/><rect x="2123.3" y="803.2" width="61.7" height="9.2" fill="#2d8fb2"/><rect x="2124.6" y="804.8" width="60.4" height="7.6" fill="#5cb3cc"/><rect x="2123.3" y="821.7" width="61.7" height="9.2" fill="#2d8fb2"/><rect x="2124.6" y="823.3" width="60.4" height="7.6" fill="#5cb3cc"/><rect x="1861.7" y="661.9" width="75.7" height="168.9" fill="#2b8cb0"/><path d="M1879.6 637.6L1917.0 637.6L1907.6 654.2L1868.9 654.2Z" fill="#84d0e2"/><path d="M1868.9 654.2L1907.6 654.2L1920.4 637.6L1932.3 651.7L1932.3 661.9L1868.9 661.9Z" fill="#167a98"/><rect x="1861.7" y="668.9" width="69.4" height="2.6" fill="#167a98"/><rect x="1857.9" y="671.5" width="73.2" height="8.7" fill="#84d0e2"/><rect x="1861.7" y="689.1" width="69.4" height="2.6" fill="#167a98"/><rect x="1857.9" y="691.7" width="73.2" height="8.7" fill="#84d0e2"/><rect x="1861.7" y="709.3" width="69.4" height="2.6" fill="#167a98"/><rect x="1857.9" y="711.9" width="73.2" height="8.7" fill="#84d0e2"/><rect x="1861.7" y="729.5" width="69.4" height="2.6" fill="#167a98"/><rect x="1857.9" y="732.1" width="73.2" height="8.7" fill="#84d0e2"/><rect x="1861.7" y="749.7" width="69.4" height="2.6" fill="#167a98"/><rect x="1857.9" y="752.3" width="73.2" height="8.7" fill="#84d0e2"/><rect x="1770.0" y="830.8" width="640.0" height="17.9" fill="#7f9b30"/><rect x="1770.0" y="848.7" width="640.0" height="24.7" fill="#a9c148"/><circle cx="1906.3" cy="799.5" r="17" fill="#a9c148"/><rect x="1904.0" y="804" width="4.6" height="27" rx="2" fill="#857650"/><circle cx="2074.5" cy="799.5" r="17" fill="#a9c148"/><rect x="2072.2" y="804" width="4.6" height="27" rx="2" fill="#857650"/><circle cx="2241.1" cy="799.5" r="17" fill="#a9c148"/><rect x="2238.8" y="804" width="4.6" height="27" rx="2" fill="#857650"/></g>
<path d="M2041.2 81.8L2080.7 81.8L2080.7 154.7M1828.2 118.2L2050.6 120.1L2057.6 152.8M1795.3 156.4L2016.5 128.4L2029.0 155.2M1737.2 198.7L1974.1 143.0L1987.0 159.4M1701.9 235.9L1918.8 163.0L1931.8 176.6M1663.5 276.4L1862.4 190.5L1875.3 202.5M1633.5 310.1L1655.9 310.1L1795.9 225.9L1822.2 232.8M1606.5 350.6L1638.2 350.6L1760.6 258.4L1781.8 268.7M1588.8 385.3L1619.4 385.3L1714.7 305.9L1739.4 317.2M1555.4 423.5L1601.8 423.5L1673.5 360.0L1698.2 371.3M1545.3 468.2L1590.0 468.2L1654.7 449.9M1536.6 553.4L1600.6 553.4L1634.7 563.5M1546.5 674.6L1592.4 674.6L1635.9 662.4M1577.5 809.4L1612.4 809.4L1668.8 782.8M1668.7 953.2L1702.8 953.2L1744.0 902.3M1816.5 1072.9L1853.5 1072.9L1883.4 998.1M2053.4 1136.0L2081.0 1136.0L2081.0 1053.0M2352.9 130.2L2317.9 130.2L2282.9 193.2M2632.0 442.3L2589.6 442.3L2511.4 472.3M2598.3 830.7L2533.3 830.7L2490.7 787.3M2375.0 1057.7L2347.7 1057.7L2306.7 992.3" stroke="#2b2b2b" stroke-width="1.3" fill="none"/>
<text x="1570.40" y="95.70" font-family="'Liberation Sans','Noto Sans CJK SC',sans-serif" font-size="33.8" font-weight="300" fill="#2b2b2b" textLength="366.8" lengthAdjust="spacing">政府采购与公共资源交易</text>
<text x="1941.40" y="95.40" font-family="Liberation Sans" font-size="35.00" font-weight="400" fill="#2b2b2b" text-anchor="start" textLength="82.20" lengthAdjust="spacingAndGlyphs" stroke="#e8f7fe" stroke-width="0.60" paint-order="fill stroke">0.5%</text>
<text x="1601.00" y="135.70" font-family="'Liberation Sans','Noto Sans CJK SC',sans-serif" font-size="33.8" font-weight="300" fill="#2b2b2b" textLength="133.7" lengthAdjust="spacing">财税管理</text>
<text x="1743.70" y="135.40" font-family="Liberation Sans" font-size="35.00" font-weight="400" fill="#2b2b2b" text-anchor="start" textLength="77.50" lengthAdjust="spacingAndGlyphs" stroke="#e8f7fe" stroke-width="0.60" paint-order="fill stroke">1.1%</text>
<text x="1622.10" y="169.90" font-family="'Liberation Sans','Noto Sans CJK SC',sans-serif" font-size="33.8" font-weight="300" fill="#2b2b2b" textLength="67.1" lengthAdjust="spacing">治安</text>
<text x="1696.60" y="169.60" font-family="Liberation Sans" font-size="35.00" font-weight="400" fill="#2b2b2b" text-anchor="start" textLength="78.60" lengthAdjust="spacingAndGlyphs" stroke="#e8f7fe" stroke-width="0.60" paint-order="fill stroke">1.1%</text>
<text x="1509.80" y="209.50" font-family="'Liberation Sans','Noto Sans CJK SC',sans-serif" font-size="33.8" font-weight="300" fill="#2b2b2b" textLength="133.7" lengthAdjust="spacing">国资监管</text>
<text x="1649.00" y="209.20" font-family="Liberation Sans" font-size="35.00" font-weight="400" fill="#2b2b2b" text-anchor="start" textLength="79.80" lengthAdjust="spacingAndGlyphs" stroke="#e8f7fe" stroke-width="0.60" paint-order="fill stroke">1.6%</text>
<text x="1478.00" y="246.40" font-family="'Liberation Sans','Noto Sans CJK SC',sans-serif" font-size="33.8" font-weight="300" fill="#2b2b2b" textLength="133.7" lengthAdjust="spacing">就业服务</text>
<text x="1615.60" y="246.10" font-family="Liberation Sans" font-size="35.00" font-weight="400" fill="#2b2b2b" text-anchor="start" textLength="81.50" lengthAdjust="spacingAndGlyphs" stroke="#e8f7fe" stroke-width="0.60" paint-order="fill stroke">2.1%</text>
<text x="1433.30" y="285.70" font-family="'Liberation Sans','Noto Sans CJK SC',sans-serif" font-size="33.8" font-weight="300" fill="#2b2b2b" textLength="133.7" lengthAdjust="spacing">金融服务</text>
<text x="1569.80" y="285.40" font-family="Liberation Sans" font-size="35.00" font-weight="400" fill="#2b2b2b" text-anchor="start" textLength="82.60" lengthAdjust="spacingAndGlyphs" stroke="#e8f7fe" stroke-width="0.60" paint-order="fill stroke">2.1%</text>
<text x="1399.20" y="322.20" font-family="'Liberation Sans','Noto Sans CJK SC',sans-serif" font-size="33.8" font-weight="300" fill="#2b2b2b" textLength="133.7" lengthAdjust="spacing">企业诉求</text>
<text x="1536.80" y="321.90" font-family="Liberation Sans" font-size="35.00" font-weight="400" fill="#2b2b2b" text-anchor="start" textLength="81.90" lengthAdjust="spacingAndGlyphs" stroke="#e8f7fe" stroke-width="0.60" paint-order="fill stroke">2.1%</text>
<text x="1368.60" y="361.00" font-family="'Liberation Sans','Noto Sans CJK SC',sans-serif" font-size="33.8" font-weight="300" fill="#2b2b2b" textLength="133.7" lengthAdjust="spacing">环境保护</text>
<text x="1505.10" y="360.70" font-family="Liberation Sans" font-size="35.00" font-weight="400" fill="#2b2b2b" text-anchor="start" textLength="82.60" lengthAdjust="spacingAndGlyphs" stroke="#e8f7fe" stroke-width="0.60" paint-order="fill stroke">2.1%</text>
<text x="1345.10" y="399.90" font-family="'Liberation Sans','Noto Sans CJK SC',sans-serif" font-size="33.8" font-weight="300" fill="#2b2b2b" textLength="133.7" lengthAdjust="spacing">政务服务</text>
<text x="1482.70" y="399.60" font-family="Liberation Sans" font-size="35.00" font-weight="400" fill="#2b2b2b" text-anchor="start" textLength="81.40" lengthAdjust="spacingAndGlyphs" stroke="#e8f7fe" stroke-width="0.60" paint-order="fill stroke">2.6%</text>
<text x="1318.00" y="437.50" font-family="'Liberation Sans','Noto Sans CJK SC',sans-serif" font-size="33.8" font-weight="300" fill="#2b2b2b" textLength="133.7" lengthAdjust="spacing">旅游管理</text>
<text x="1455.60" y="437.20" font-family="Liberation Sans" font-size="35.00" font-weight="400" fill="#2b2b2b" text-anchor="start" textLength="81.50" lengthAdjust="spacingAndGlyphs" stroke="#e8f7fe" stroke-width="0.60" paint-order="fill stroke">3.2%</text>
<text x="1306.20" y="479.90" font-family="'Liberation Sans','Noto Sans CJK SC',sans-serif" font-size="33.8" font-weight="300" fill="#2b2b2b" textLength="133.7" lengthAdjust="spacing">市场管理</text>
<text x="1442.70" y="479.60" font-family="Liberation Sans" font-size="35.00" font-weight="400" fill="#2b2b2b" text-anchor="start" textLength="81.50" lengthAdjust="spacingAndGlyphs" stroke="#e8f7fe" stroke-width="0.60" paint-order="fill stroke">3.2%</text>
<text x="1309.80" y="563.90" font-family="'Liberation Sans','Noto Sans CJK SC',sans-serif" font-size="33.8" font-weight="300" fill="#2b2b2b" textLength="133.7" lengthAdjust="spacing">文娱服务</text>
<text x="1447.40" y="563.60" font-family="Liberation Sans" font-size="35.00" font-weight="400" fill="#2b2b2b" text-anchor="start" textLength="81.40" lengthAdjust="spacingAndGlyphs" stroke="#e8f7fe" stroke-width="0.60" paint-order="fill stroke">3.7%</text>
<text x="1311.00" y="687.60" font-family="'Liberation Sans','Noto Sans CJK SC',sans-serif" font-size="33.8" font-weight="300" fill="#2b2b2b" textLength="133.7" lengthAdjust="spacing">农村管理</text>
<text x="1448.60" y="687.30" font-family="Liberation Sans" font-size="35.00" font-weight="400" fill="#2b2b2b" text-anchor="start" textLength="81.40" lengthAdjust="spacingAndGlyphs" stroke="#e8f7fe" stroke-width="0.60" paint-order="fill stroke">3.7%</text>
<text x="1345.10" y="821.70" font-family="'Liberation Sans','Noto Sans CJK SC',sans-serif" font-size="33.8" font-weight="300" fill="#2b2b2b" textLength="133.7" lengthAdjust="spacing">卫生健康</text>
<text x="1481.50" y="821.40" font-family="Liberation Sans" font-size="35.00" font-weight="400" fill="#2b2b2b" text-anchor="start" textLength="82.60" lengthAdjust="spacingAndGlyphs" stroke="#e8f7fe" stroke-width="0.60" paint-order="fill stroke">4.7%</text>
<text x="1437.80" y="959.50" font-family="'Liberation Sans','Noto Sans CJK SC',sans-serif" font-size="33.8" font-weight="300" fill="#2b2b2b" textLength="133.7" lengthAdjust="spacing">民主法治</text>
<text x="1573.50" y="959.20" font-family="Liberation Sans" font-size="35.00" font-weight="400" fill="#2b2b2b" text-anchor="start" textLength="82.20" lengthAdjust="spacingAndGlyphs" stroke="#e8f7fe" stroke-width="0.60" paint-order="fill stroke">5.3%</text>
<text x="1579.70" y="1079.50" font-family="'Liberation Sans','Noto Sans CJK SC',sans-serif" font-size="33.8" font-weight="300" fill="#2b2b2b" textLength="133.7" lengthAdjust="spacing">民政事务</text>
<text x="1714.80" y="1079.20" font-family="Liberation Sans" font-size="35.00" font-weight="400" fill="#2b2b2b" text-anchor="start" textLength="82.50" lengthAdjust="spacingAndGlyphs" stroke="#e8f7fe" stroke-width="0.60" paint-order="fill stroke">6.3%</text>
<text x="1814.30" y="1147.10" font-family="'Liberation Sans','Noto Sans CJK SC',sans-serif" font-size="33.8" font-weight="300" fill="#2b2b2b" textLength="133.7" lengthAdjust="spacing">公共服务</text>
<text x="1951.60" y="1146.80" font-family="Liberation Sans" font-size="35.00" font-weight="400" fill="#2b2b2b" text-anchor="start" textLength="82.20" lengthAdjust="spacingAndGlyphs" stroke="#e8f7fe" stroke-width="0.60" paint-order="fill stroke">8.9%</text>
<text x="2359.00" y="143.40" font-family="'Liberation Sans','Noto Sans CJK SC',sans-serif" font-size="33.8" font-weight="300" fill="#2b2b2b" textLength="133.7" lengthAdjust="spacing">交通管理</text>
<text x="2498.00" y="143.10" font-family="Liberation Sans" font-size="35.00" font-weight="400" fill="#2b2b2b" text-anchor="start" textLength="101.10" lengthAdjust="spacingAndGlyphs" stroke="#e8f7fe" stroke-width="0.60" paint-order="fill stroke">13.7%</text>
<text x="2639.70" y="457.10" font-family="'Liberation Sans','Noto Sans CJK SC',sans-serif" font-size="33.8" font-weight="300" fill="#2b2b2b" textLength="233.6" lengthAdjust="spacing">城市建设与管理</text>
<text x="2878.90" y="456.80" font-family="Liberation Sans" font-size="35.00" font-weight="400" fill="#2b2b2b" text-anchor="start" textLength="101.00" lengthAdjust="spacingAndGlyphs" stroke="#e8f7fe" stroke-width="0.60" paint-order="fill stroke">12.6%</text>
<text x="2605.30" y="845.80" font-family="'Liberation Sans','Noto Sans CJK SC',sans-serif" font-size="33.8" font-weight="300" fill="#2b2b2b" textLength="133.7" lengthAdjust="spacing">教育管理</text>
<text x="2745.70" y="845.50" font-family="Liberation Sans" font-size="35.00" font-weight="400" fill="#2b2b2b" text-anchor="start" textLength="100.50" lengthAdjust="spacingAndGlyphs" stroke="#e8f7fe" stroke-width="0.60" paint-order="fill stroke">10.5%</text>
<text x="2383.60" y="1069.20" font-family="'Liberation Sans','Noto Sans CJK SC',sans-serif" font-size="33.8" font-weight="300" fill="#2b2b2b" textLength="133.7" lengthAdjust="spacing">社会保障</text>
<text x="2521.90" y="1068.90" font-family="Liberation Sans" font-size="35.00" font-weight="400" fill="#2b2b2b" text-anchor="start" textLength="82.00" lengthAdjust="spacingAndGlyphs" stroke="#e8f7fe" stroke-width="0.60" paint-order="fill stroke">8.9%</text>
</svg>
<div class="t"><div style="left:65px;top:419px;font-size:58px;letter-spacing:0.0px">数</div><div style="left:66px;top:537px;font-size:58px;letter-spacing:0.0px">据</div><div style="left:65px;top:655px;font-size:58px;letter-spacing:0.0px">盘</div><div style="left:65px;top:771px;font-size:58px;letter-spacing:0.0px">点</div><div style="left:286px;top:124px;font-size:37px;letter-spacing:0.0px">截至</div><div style="left:394px;top:124px;font-size:37px;letter-spacing:0.0px">月</div><div style="left:464px;top:124px;font-size:37px;letter-spacing:0.0px">日</div><div style="left:558px;top:124px;font-size:37px;letter-spacing:0.0px">时</div><div style="left:313px;top:220px;font-size:55px;letter-spacing:0.7px">人大代表政协委员网上工作站</div><div style="left:287px;top:222px;font-size:55px;letter-spacing:0.0px">“</div><div style="left:1031px;top:222px;font-size:55px;letter-spacing:0.0px">”</div><div style="left:286px;top:295px;font-size:55px;letter-spacing:0.7px">已收到近</div><div style="left:603px;top:295px;font-size:55px;letter-spacing:0.7px">条网友留言建议</div><div style="left:375px;top:461px;font-size:44px;letter-spacing:0.0px">●</div><div style="left:417px;top:461px;font-size:44px;letter-spacing:0.1px">网友关注热点方面，交通管理、城市建设</div><div style="left:285px;top:523px;font-size:44px;letter-spacing:0.1px">与管理、教育管理领域留言量位居前三，社会保</div><div style="left:285px;top:585px;font-size:44px;letter-spacing:-1.0px">障、公共服务领域留言量并列第四</div><div style="left:372px;top:647px;font-size:44px;letter-spacing:5.2px">相关留言占比分别为</div><div style="left:969px;top:647px;font-size:44px;letter-spacing:0.0px">、</div><div style="left:1145px;top:647px;font-size:44px;letter-spacing:0.0px">、</div><div style="left:431px;top:710px;font-size:44px;letter-spacing:0.0px">、</div><div style="left:569px;top:710px;font-size:44px;letter-spacing:0.0px">、</div><div style="left:375px;top:906px;font-size:44px;letter-spacing:0.0px">●</div><div style="left:417px;top:905px;font-size:44px;letter-spacing:0.1px">地域方面，成都、南充、四川天府新区、绵</div><div style="left:284px;top:968px;font-size:44px;letter-spacing:-0.2px">阳、宜宾网友留言较多，占了总留言数的</div><div style="left:286px;top:1083px;font-size:36px;letter-spacing:2.1px">本报制图</div><div style="left:446px;top:1083px;font-size:36px;letter-spacing:2.4px">侯小科</div><div style="left:1570px;top:66px;font-size:34px;letter-spacing:-0.5px">政府采购与公共资源交易</div><div style="left:1601px;top:106px;font-size:34px;letter-spacing:-0.5px">财税管理</div><div style="left:1622px;top:140px;font-size:34px;letter-spacing:-0.5px">治安</div><div style="left:1510px;top:180px;font-size:34px;letter-spacing:-0.5px">国资监管</div><div style="left:1478px;top:217px;font-size:34px;letter-spacing:-0.5px">就业服务</div><div style="left:1433px;top:256px;font-size:34px;letter-spacing:-0.5px">金融服务</div><div style="left:1399px;top:292px;font-size:34px;letter-spacing:-0.5px">企业诉求</div><div style="left:1369px;top:331px;font-size:34px;letter-spacing:-0.5px">环境保护</div><div style="left:1345px;top:370px;font-size:34px;letter-spacing:-0.5px">政务服务</div><div style="left:1318px;top:408px;font-size:34px;letter-spacing:-0.5px">旅游管理</div><div style="left:1306px;top:450px;font-size:34px;letter-spacing:-0.5px">市场管理</div><div style="left:1310px;top:534px;font-size:34px;letter-spacing:-0.5px">文娱服务</div><div style="left:1311px;top:658px;font-size:34px;letter-spacing:-0.5px">农村管理</div><div style="left:1345px;top:792px;font-size:34px;letter-spacing:-0.5px">卫生健康</div><div style="left:1438px;top:930px;font-size:34px;letter-spacing:-0.5px">民主法治</div><div style="left:1580px;top:1050px;font-size:34px;letter-spacing:-0.5px">民政事务</div><div style="left:1814px;top:1117px;font-size:34px;letter-spacing:-0.5px">公共服务</div><div style="left:2359px;top:114px;font-size:34px;letter-spacing:-0.5px">交通管理</div><div style="left:2640px;top:427px;font-size:34px;letter-spacing:-0.5px">城市建设与管理</div><div style="left:2605px;top:816px;font-size:34px;letter-spacing:-0.5px">教育管理</div><div style="left:2384px;top:1039px;font-size:34px;letter-spacing:-0.5px">社会保障</div></div>
</body></html>
